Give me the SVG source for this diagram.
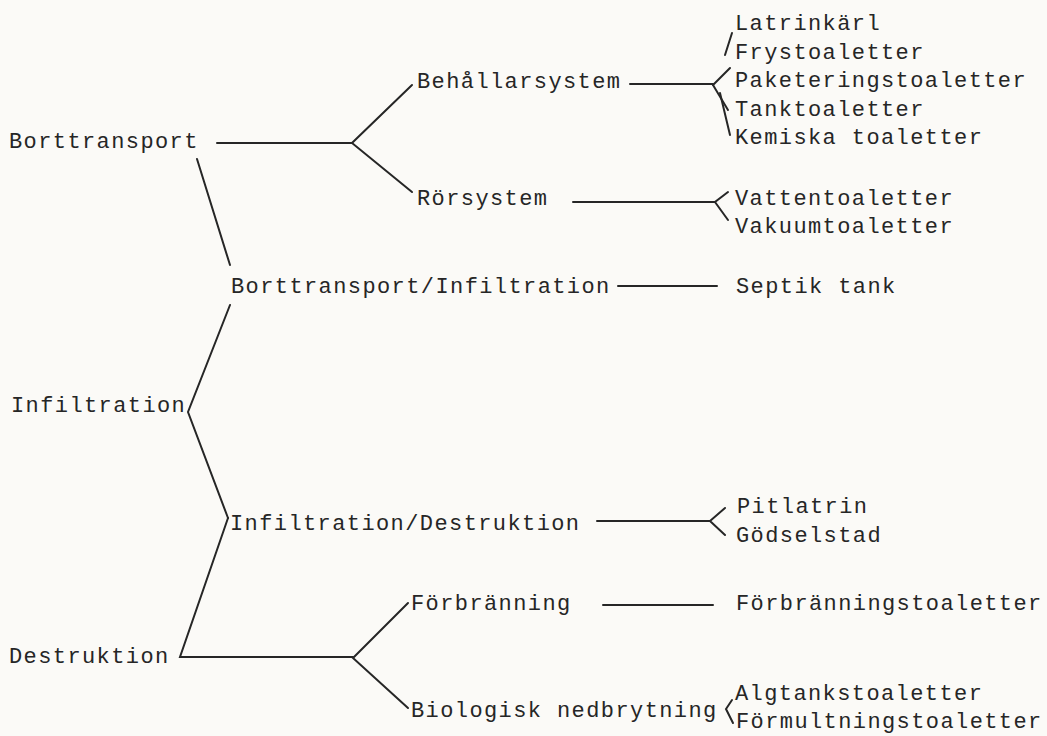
<svg xmlns="http://www.w3.org/2000/svg" width="1047" height="736" viewBox="0 0 1047 736">
  <style>
    text { font-family: "Liberation Mono", "DejaVu Sans Mono", monospace; font-size: 22px; letter-spacing: 1.4px; fill: #262626; }
    .wire { fill: none; stroke: #262626; stroke-width: 2; stroke-linecap: round; stroke-linejoin: miter; }
  </style>
  <rect width="1047" height="736" fill="#fbfaf7"/>

  <!-- connectors -->
  <g id="connectors" class="wire">
    <!-- Borttransport branch -->
    <path d="M217,143 H352"/>
    <path d="M412,85 L352,143 L412,192"/>
    <path d="M197,159 L230,265"/>
    <!-- Behållarsystem fan -->
    <path d="M630,84 H713"/>
    <path d="M725,55 L732,33"/>
    <path d="M713,85 L730,68"/>
    <path d="M713,85 L728,110"/>
    <path d="M720,93 L730,135"/>
    <!-- Rörsystem fan -->
    <path d="M573,202 H715"/>
    <path d="M728,192 L715,202 L728,220"/>
    <!-- Borttransport/Infiltration -->
    <path d="M618,286 H717"/>
    <!-- Infiltration -->
    <path d="M230,305 L188,412 L228,518"/>
    <!-- Destruktion -->
    <path d="M228,518 L180,657 H353"/>
    <path d="M408,603 L353,658 L408,708"/>
    <!-- Infiltration/Destruktion fan -->
    <path d="M597,521 H710"/>
    <path d="M725,508 L710,521 L725,535"/>
    <!-- Förbränning -->
    <path d="M603,605 H713"/>
    <!-- Biologisk nedbrytning fan -->
    <path d="M732,700 L726,709 L733,723"/>
  </g>

  <!-- first level -->
  <g id="borttransport"><text x="9" y="148">Borttransport</text></g>
  <g id="infiltration"><text x="11" y="412">Infiltration</text></g>
  <g id="destruktion"><text x="9" y="663">Destruktion</text></g>

  <!-- second level -->
  <g id="behallarsystem"><text x="417" y="88">Behållarsystem</text></g>
  <g id="rorsystem"><text x="417" y="205">Rörsystem</text></g>
  <g id="borttransport-infiltration"><text x="231" y="293">Borttransport/Infiltration</text></g>
  <g id="infiltration-destruktion"><text x="230" y="530">Infiltration/Destruktion</text></g>
  <g id="forbranning"><text x="411" y="610">Förbränning</text></g>
  <g id="biologisk-nedbrytning"><text x="411" y="717">Biologisk nedbrytning</text></g>

  <!-- toilet types -->
  <g id="latrinkarl"><text x="735" y="30">Latrinkärl</text></g>
  <g id="frystoaletter"><text x="735" y="59">Frystoaletter</text></g>
  <g id="paketeringstoaletter"><text x="735" y="87">Paketeringstoaletter</text></g>
  <g id="tanktoaletter"><text x="735" y="116">Tanktoaletter</text></g>
  <g id="kemiska-toaletter"><text x="735" y="144">Kemiska toaletter</text></g>
  <g id="vattentoaletter"><text x="735" y="205">Vattentoaletter</text></g>
  <g id="vakuumtoaletter"><text x="735" y="233">Vakuumtoaletter</text></g>
  <g id="septik-tank"><text x="736" y="293">Septik tank</text></g>
  <g id="pitlatrin"><text x="737" y="513">Pitlatrin</text></g>
  <g id="godselstad"><text x="736" y="542">Gödselstad</text></g>
  <g id="forbranningstoaletter"><text x="736" y="610">Förbränningstoaletter</text></g>
  <g id="algtankstoaletter"><text x="735" y="700">Algtankstoaletter</text></g>
  <g id="formultningstoaletter"><text x="736" y="728">Förmultningstoaletter</text></g>
</svg>
